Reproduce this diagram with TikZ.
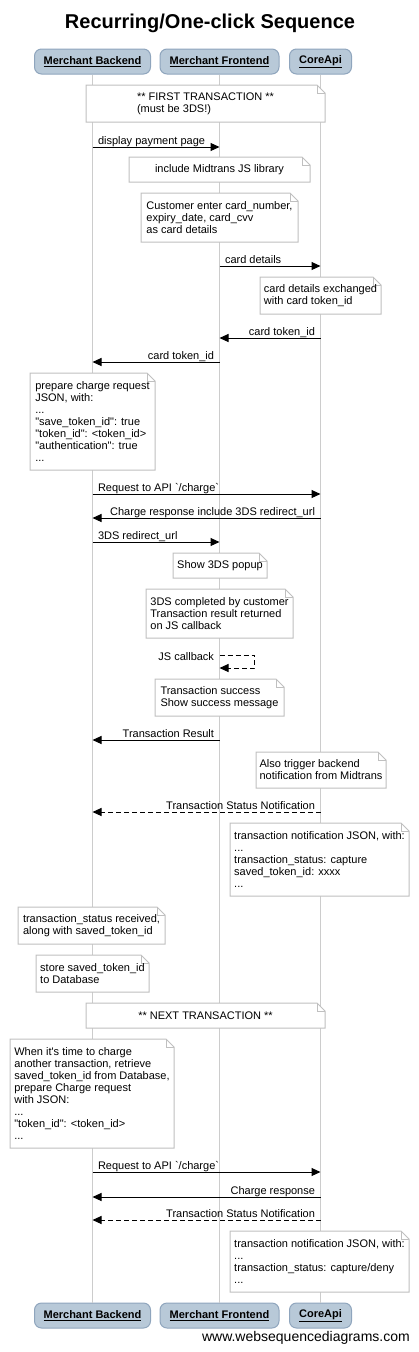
\documentclass[tikz,border=0pt]{standalone}
\usepackage{fontspec}
\setmainfont{Liberation Sans}[Ligatures=TeXOff]
\usepackage{tikz}
\usetikzlibrary{arrows.meta}

\definecolor{actorfill}{HTML}{B8C9D8}
\definecolor{actoredge}{HTML}{8FA5BD}
\definecolor{lifegray}{HTML}{CCCCCC}
\definecolor{notegray}{HTML}{C0C0C0}

\newcommand{\notebox}[6]{%
  \filldraw [noteline] (#2,#3) -- (#4-8,#3) -- (#4,#3+8) -- (#4,#5) -- (#2,#5) -- cycle;
  \draw [noteline, fill=none] (#4-8,#3) -- (#4-8,#3+8) -- (#4,#3+8);
  \node [notetext] (#1) at ({(#2+#4)/2}, {(#3+#5)/2}) {#6};
}

\begin{document}
\begin{tikzpicture}[x=1pt, y=-1pt,
    actor/.style={draw=actoredge, fill=actorfill, line width=1pt, rounded corners=7pt,
      minimum height=25pt, inner sep=0pt, font=\fontsize{11}{12}\selectfont\bfseries},
    life/.style={draw=lifegray, line width=1pt},
    noteline/.style={draw=notegray, fill=white, line width=1pt},
    notetext/.style={inner sep=0pt, align=left, font=\fontsize{11}{12}\selectfont},
    msg/.style={line width=1pt, -{Triangle[length=9pt, width=8pt]}},
    reply/.style={msg, dash pattern=on 5pt off 3pt},
    msgtxt/.style={inner sep=0pt, font=\fontsize{11}{12}\selectfont},
    fwd/.style={msgtxt, pos=0, anchor=base west, xshift=5pt, yshift=3pt},
    bwd/.style={msgtxt, pos=0, anchor=base east, xshift=-5pt, yshift=3pt}]
    \useasboundingbox (0,0) rectangle (419,1352);

    \node [font=\fontsize{20}{24}\selectfont\bfseries, anchor=base] (title) at (210,28.5)
      {Recurring/One-click Sequence};

    \node [actor, minimum width=116pt] (mbT) at (92.5,61.5) {\underline{Merchant Backend}};
    \node [actor, minimum width=119pt] (mfT) at (219.5,61.5) {\underline{Merchant Frontend}};
    \node [actor, minimum width=62pt] (caT) at (320.5,61.5) {\underline{CoreApi}};
    \node [actor, minimum width=116pt] (mbB) at (92.5,1315.5) {\underline{Merchant Backend}};
    \node [actor, minimum width=119pt] (mfB) at (219.5,1315.5) {\underline{Merchant Frontend}};
    \node [actor, minimum width=62pt] (caB) at (320.5,1315.5) {\underline{CoreApi}};

    \draw [life] (mbT) -- (mbB);
    \draw [life] (mfT) -- (mfB);
    \draw [life] (caT) -- (caB);

    \notebox{first}{86}{85}{325}{122}{** FIRST TRANSACTION **\\(must be 3DS!)}
    \draw [msg] (mbT |- 0,147) -- node [fwd] {display payment page} (mfT |- 0,147);
    \notebox{jslib}{129}{157}{310}{182}{include Midtrans JS library}
    \notebox{enter}{141}{193}{298}{242}{Customer enter card\_number,\\expiry\_date, card\_cvv\\as card details}
    \draw [msg] (mfT |- 0,266) -- node [fwd] {card details} (caT |- 0,266);
    \notebox{exch}{260}{277}{381}{314}{card details exchanged\\with card token\_id}
    \draw [msg] (caT |- 0,338) -- node [bwd] {card token\_id} (mfT |- 0,338);
    \draw [msg] (mfT |- 0,362) -- node [bwd] {card token\_id} (mbT |- 0,362);
    \notebox{prep}{30}{373}{155}{470}{prepare charge request\\JSON, with:\\...\\"save\_token\_id": true\\"token\_id": <token\_id>\\"authentication": true\\...}
    \draw [msg] (mbT |- 0,494) -- node [fwd] {Request to API `/charge`} (caT |- 0,494);
    \draw [msg] (caT |- 0,518) -- node [bwd] {Charge response include 3DS redirect\_url} (mbT |- 0,518);
    \draw [msg] (mbT |- 0,542) -- node [fwd] {3DS redirect\_url} (mfT |- 0,542);
    \notebox{popup}{173}{553}{267}{578}{Show 3DS popup}
    \notebox{done}{146}{589}{293}{638}{3DS completed by customer\\Transaction result returned\\on JS callback}
    \draw [reply] (mfT |- 0,655)
      node [msgtxt, anchor=base east, xshift=-5pt, yshift=-5pt] (jscb) {JS callback}
      -- ++(35,0) -- ++(0,13) -- (mfT |- 0,668);
    \notebox{success}{155}{679}{284}{716}{Transaction success\\Show success message}
    \draw [msg] (mfT |- 0,740) -- node [bwd] {Transaction Result} (mbT |- 0,740);
    \notebox{trigger}{256}{752}{386}{788}{Also trigger backend\\notification from Midtrans}
    \draw [reply] (caT |- 0,812) -- node [bwd] {Transaction Status Notification} (mbT |- 0,812);
    \notebox{notif}{230}{823}{409}{896}{transaction notification JSON, with:\\...\\transaction\_status: capture\\saved\_token\_id: xxxx\\...}
    \notebox{recv}{18}{907}{165}{944}{transaction\_status received,\\along with saved\_token\_id}
    \notebox{store}{36}{955}{149}{992}{store saved\_token\_id\\to Database}

    \notebox{next}{86}{1003}{325}{1028}{** NEXT TRANSACTION **}
    \notebox{again}{10}{1039}{174}{1148}{When it's time to charge\\another transaction, retrieve\\saved\_token\_id from Database,\\prepare Charge request\\with JSON:\\...\\"token\_id": <token\_id>\\...}
    \draw [msg] (mbT |- 0,1172) -- node [fwd] {Request to API `/charge`} (caT |- 0,1172);
    \draw [msg] (caT |- 0,1197) -- node [bwd] {Charge response} (mbT |- 0,1197);
    \draw [reply] (caT |- 0,1220) -- node [bwd] {Transaction Status Notification} (mbT |- 0,1220);
    \notebox{notif2}{230}{1231}{409}{1292}{transaction notification JSON, with:\\...\\transaction\_status: capture/deny\\...}

    \node [font=\fontsize{14}{16}\selectfont, anchor=base east, inner sep=0pt] (site) at (410,1341.5)
      {www.websequencediagrams.com};
\end{tikzpicture}
\end{document}
